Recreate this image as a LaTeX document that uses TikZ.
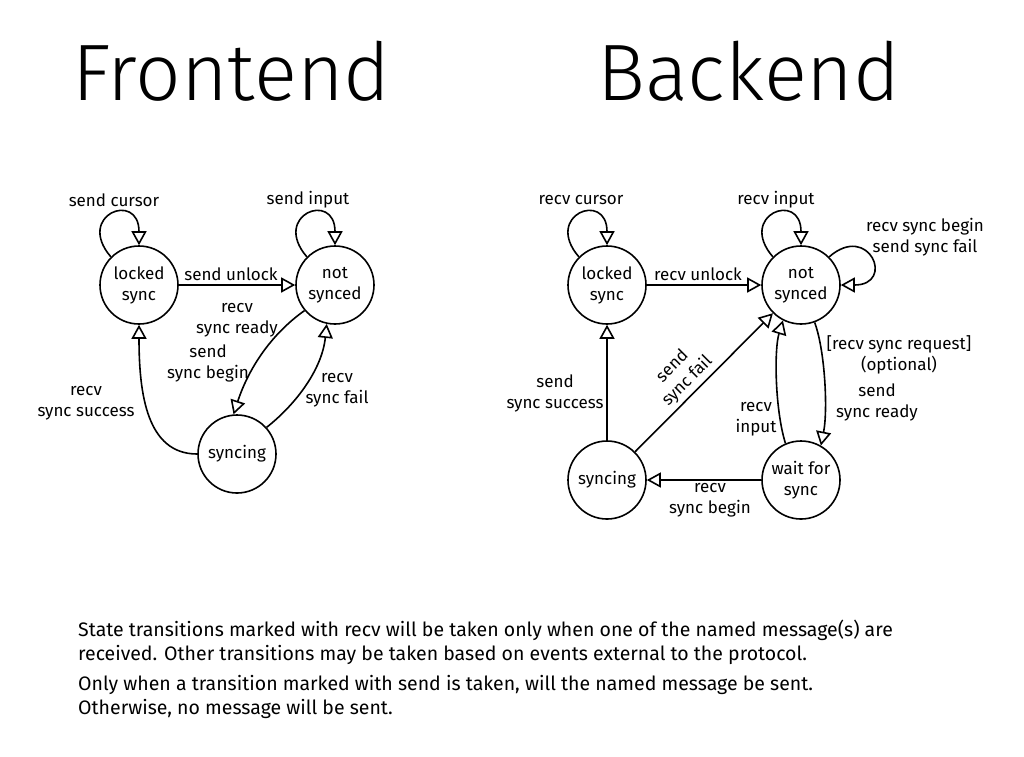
\documentclass[tikz,border=0pt]{standalone}
\usepackage{fontspec}
\setmainfont{Fira Sans}
\newfontfamily\titlefont{Fira Sans Light}
\usetikzlibrary{arrows.meta}

\tikzset{
  state/.style={draw, circle, line width=1.6pt, minimum size=78pt, inner sep=0pt, align=center, font=\fontsize{17}{21}\selectfont},
  trans/.style={line width=1.6pt, -{Triangle[open, length=14pt, width=15pt]}},
  lbl/.style={align=center, inner sep=0pt, font=\fontsize{17}{21}\selectfont},
  title/.style={anchor=base west, inner sep=0pt, font=\titlefont\fontsize{80}{90}\selectfont},
  note/.style={anchor=base west, align=left, inner sep=0pt, font=\fontsize{19.5}{23.5}\selectfont},
}

\begin{document}
\begin{tikzpicture}[x=1pt, y=-1pt]
  \useasboundingbox (0,0) rectangle (1024,756);

  % Titles
  \node[title] (ftitle) at (72,100) {Frontend};
  \node[title] (btitle) at (597,100) {Backend};

  % Frontend states
  \node[state] (flocked) at (139,285) {locked\\sync};
  \node[state] (fnot) at (335,285) {not\\synced};
  \node[state] (fsync) at (237,454) {syncing};

  % Frontend transitions
  \draw[trans] (flocked.135) .. controls +(-36,-42) and +(0,-55) .. (flocked.north);
  \draw[trans] (fnot.135) .. controls +(-36,-42) and +(0,-55) .. (fnot.north);
  \draw[trans] (flocked) -- (fnot);
  \draw[trans] (fnot.220) .. controls (270,335) and (248,370) .. (fsync.95);
  \draw[trans] (fsync.42) .. controls (295,405) and (322,370) .. (fnot.258);
  \draw[trans] (fsync.west) .. controls +(-50,0) and +(0,70) .. (flocked.south);

  % Frontend labels
  \node[lbl] (lcursor) at (114,200) {send cursor};
  \node[lbl] (linput) at (308,200) {send input};
  \node[lbl] (lunlock) at (231,274) {send unlock};
  \node[lbl] (lready) at (237,320) {recv\\sync ready};
  \node[lbl] (lbegin) at (208,363) {send\\sync begin};
  \node[lbl] (lfail) at (337,390) {recv\\sync fail};
  \node[lbl] (lsuccess) at (86,403) {recv\\sync success};

  % Backend states
  \node[state] (blocked) at (607,285) {locked\\sync};
  \node[state] (bnot) at (801,285) {not\\synced};
  \node[state] (bsync) at (607,480) {syncing};
  \node[state] (bwait) at (801,480) {wait for\\sync};

  % Backend transitions
  \draw[trans] (blocked.135) .. controls +(-36,-42) and +(0,-55) .. (blocked.north);
  \draw[trans] (bnot.135) .. controls +(-36,-42) and +(0,-55) .. (bnot.north);
  \draw[trans] (bnot.45) .. controls +(40,-35) and +(55,0) .. (bnot.east);
  \draw[trans] (blocked) -- (bnot);
  \draw[trans] (bsync) -- (blocked);
  \draw[trans] (bsync) -- (bnot);
  \draw[trans] (bwait) -- (bsync);
  \draw[trans] (bnot.-70) .. controls (825,350) and (828,410) .. (bwait.60);
  \draw[trans] (bwait.113) .. controls (775,410) and (774,350) .. (bnot.243);

  % Backend labels
  \node[lbl] (rcursor) at (581,200) {recv cursor};
  \node[lbl] (rinput) at (776,200) {recv input};
  \node[lbl] (rbegin) at (925,237) {recv sync begin\\send sync fail};
  \node[lbl] (runlock) at (698,274) {recv unlock};
  \node[lbl] (rsuccess) at (555,393) {send\\sync success};
  \node[lbl, rotate=45] (rfail) at (680,374) {send\\sync fail};
  \node[lbl] (rrequest) at (899,355) {[recv sync request]\\(optional)};
  \node[lbl] (rready) at (877,402) {send\\sync ready};
  \node[lbl] (rinput2) at (756,419) {recv\\input};
  \node[lbl] (rsbegin) at (710,500) {recv\\sync begin};

  % Notes
  \node[note] (note1) at (78,660) {State transitions marked with recv will be taken only when one of the named message(s) are\\received. Other transitions may be taken based on events external to the protocol.};
  \node[note] (note2) at (78,714) {Only when a transition marked with send is taken, will the named message be sent.\\Otherwise, no message will be sent.};
\end{tikzpicture}
\end{document}
